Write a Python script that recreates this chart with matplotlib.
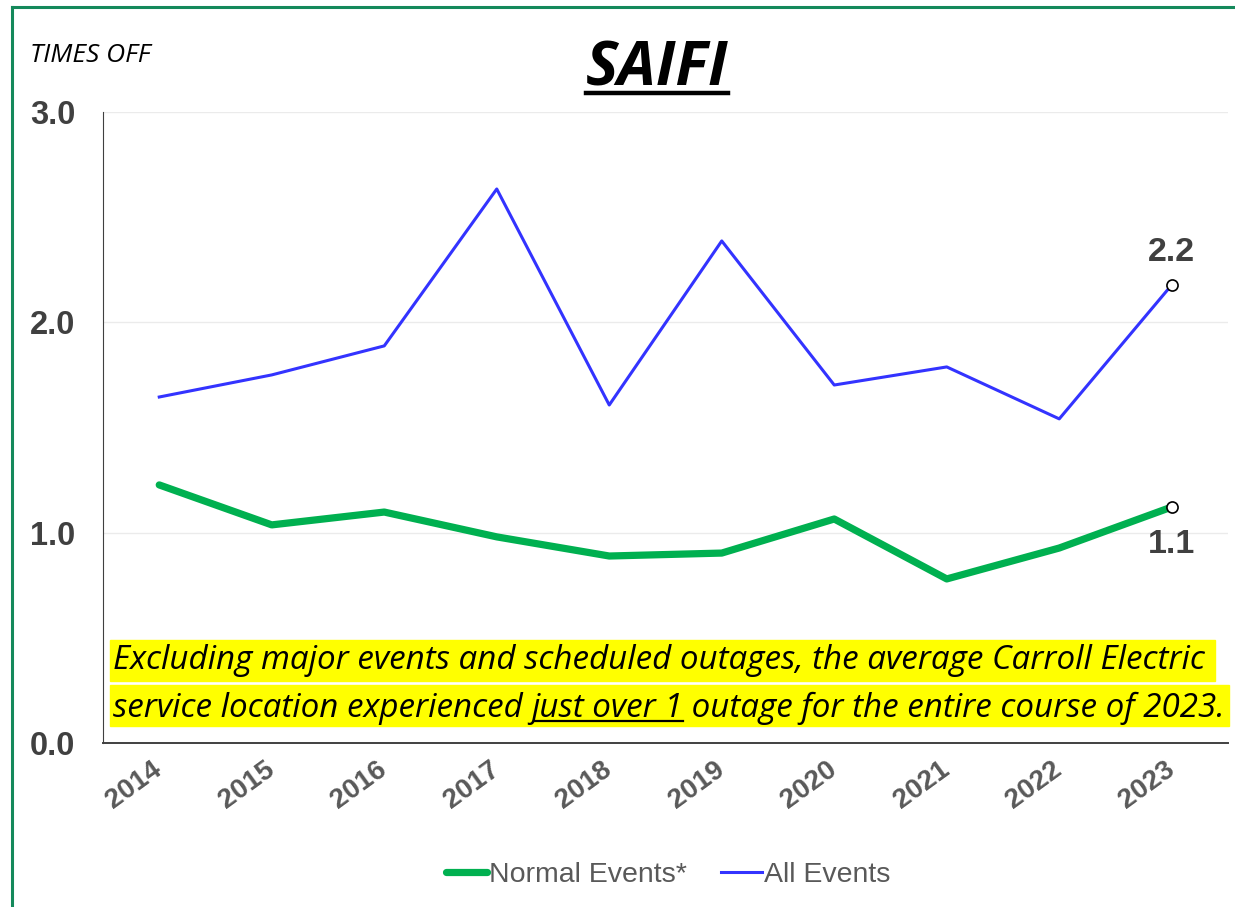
import matplotlib
matplotlib.use("Agg")
import matplotlib.pyplot as plt
from matplotlib.lines import Line2D
from matplotlib.patches import Rectangle

years = ["2014", "2015", "2016", "2017", "2018", "2019", "2020", "2021", "2022", "2023"]
normal_events = [1.227, 1.037, 1.098, 0.98, 0.889, 0.903, 1.065, 0.78, 0.927, 1.122]
all_events = [1.645, 1.75, 1.888, 2.634, 1.607, 2.387, 1.702, 1.788, 1.541, 2.178]
y_ticks = [0, 1, 2, 3]
y_ticklabels = ["0.0", "1.0", "2.0", "3.0"]

note_line1 = "Excluding major events and scheduled outages, the average Carroll Electric"
note_line2_pre = "service location experienced "
note_line2_mid = "just over 1"
note_line2_post = " outage for the entire course of 2023."

plt.rcParams["font.family"] = ["Liberation Sans", "DejaVu Sans"]

W, H = 1235, 907
fig = plt.figure(figsize=(W / 100, H / 100), dpi=100)


def fx(px):
    return px / W


def fy(py):
    return 1 - py / H


GREEN = "#00B050"
BLUE = "#3333FF"
GRAY = "#595959"
DARK = "#404040"

ax = fig.add_axes([fx(103), fy(743), fx(1228) - fx(103), fy(112) - fy(743)])
xs = list(range(len(years)))
ax.plot(xs, normal_events, color=GREEN, lw=5.2, solid_capstyle="round",
        solid_joinstyle="round", zorder=3)
ax.plot(xs, all_events, color=BLUE, lw=2.2, zorder=3)
ax.plot(xs[-1], all_events[-1], "o", mfc="white", mec="black", ms=8, mew=1.2, zorder=4)
ax.plot(xs[-1], normal_events[-1], "o", mfc="white", mec="black", ms=8, mew=1.2, zorder=4)
ax.annotate(f"{all_events[-1]:.1f}", (xs[-1], all_events[-1]), xytext=(0, 12),
            textcoords="offset points", ha="center", va="bottom",
            fontsize=24.5, fontweight="bold", color=DARK)
ax.annotate(f"{normal_events[-1]:.1f}", (xs[-1], normal_events[-1]), xytext=(0, -16),
            textcoords="offset points", ha="center", va="top",
            fontsize=24.5, fontweight="bold", color=DARK)

ax.set_xlim(-0.5, len(years) - 0.5)
ax.set_ylim(0, 3)
ax.set_yticks(y_ticks)
ax.set_yticklabels(y_ticklabels, fontsize=23.5, fontweight="bold", color=DARK)
ax.set_xticks(xs)
ax.set_xticklabels(years, fontsize=20, fontweight="bold", color=GRAY,
                   rotation=36, ha="right", va="center", rotation_mode="anchor")
ax.tick_params(axis="y", length=0, pad=20)
ax.tick_params(axis="x", length=0, pad=17)
ax.grid(axis="y", color="#EBEBEB", lw=1)
ax.set_axisbelow(True)
for s in ["top", "right"]:
    ax.spines[s].set_visible(False)
ax.spines["left"].set_color(DARK)
ax.spines["bottom"].set_color(DARK)
ax.spines["bottom"].set_linewidth(1.4)

# frame (left and top only visible)
fig.add_artist(Line2D([fx(11.5), fx(11.5)], [fy(6.5), 0], color="#14895B", lw=2.2))
fig.add_artist(Line2D([fx(11.5), 1], [fy(6.5), fy(6.5)], color="#14895B", lw=2.2))

renderer = fig.canvas.get_renderer()

# title
title = fig.text(fx(657), fy(86), "SAIFI", ha="center", va="baseline", fontsize=44,
                 fontweight="bold", style="italic", family="Open Sans")
tb = title.get_window_extent(renderer)
fig.add_artist(Line2D([tb.x0 / W, tb.x1 / W], [fy(93), fy(93)], color="black", lw=3.2))

fig.text(fx(30), fy(62), "TIMES OFF", ha="left", va="baseline", fontsize=19,
         style="italic", family="Open Sans")

# highlighted note
note_kw = dict(style="italic", family="Open Sans", color="black", va="baseline", ha="left")
probe = fig.text(0, 0, note_line2_pre + note_line2_mid + note_line2_post, fontsize=20, **note_kw)
pw = probe.get_window_extent(renderer).width
probe.remove()
fs = 20 * (1225 - 113) / pw

x0 = 113
t1 = fig.text(fx(x0), fy(669), note_line1, fontsize=fs, zorder=5, **note_kw)
b1 = t1.get_window_extent(renderer)
t2a = fig.text(fx(x0), fy(717), note_line2_pre, fontsize=fs, zorder=5, **note_kw)
ba = t2a.get_window_extent(renderer)
t2b = fig.text(ba.x1 / W, fy(717), note_line2_mid, fontsize=fs, zorder=5, **note_kw)
bb = t2b.get_window_extent(renderer)
t2c = fig.text(bb.x1 / W, fy(717), note_line2_post, fontsize=fs, zorder=5, **note_kw)
bc = t2c.get_window_extent(renderer)
fig.add_artist(Line2D([bb.x0 / W + 0.002, bb.x1 / W], [fy(720.5), fy(720.5)],
                      color="black", lw=1.6, zorder=6))

fig.add_artist(Rectangle((fx(110), fy(681)), (b1.x1 + 10) / W - fx(110), fy(640) - fy(681),
                         transform=fig.transFigure, color="#FFFF00", zorder=4))
fig.add_artist(Rectangle((fx(110), fy(726)), (bc.x1 + 4) / W - fx(110), fy(685) - fy(726),
                         transform=fig.transFigure, color="#FFFF00", zorder=4))

handles = [Line2D([], [], color=GREEN, lw=5.2, solid_capstyle="round"),
           Line2D([], [], color=BLUE, lw=2.2)]
fig.legend(handles, ["Normal Events*", "All Events"], loc="center",
           bbox_to_anchor=(fx(668), fy(875)), ncol=2, frameon=False, fontsize=20.5,
           labelcolor=GRAY, handlelength=1.45, handletextpad=0.05, columnspacing=1.2)

fig.savefig("out.png", dpi=100)
